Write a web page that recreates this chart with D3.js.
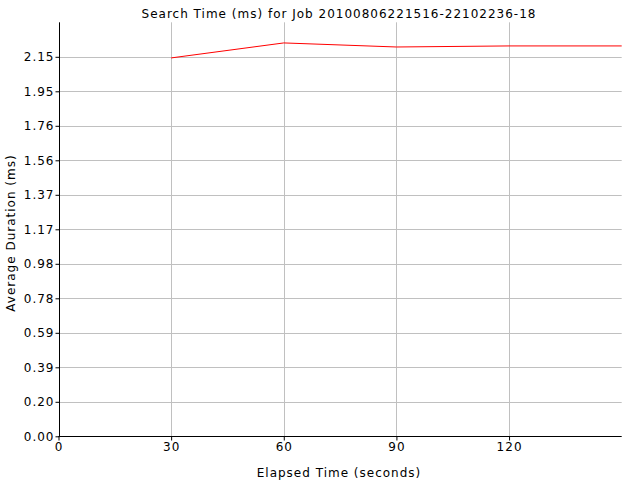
<!DOCTYPE html>
<html><head><meta charset="utf-8">
<script src="https://cdn.jsdelivr.net/npm/d3@7"></script>
<style>
body{margin:0;background:#fff;}
text{font-family:"DejaVu Sans",sans-serif;letter-spacing:1px;}
</style></head>
<body><svg id="c" width="640" height="480"></svg>
<script>
const titleText = "Search Time (ms) for Job 20100806221516-22102236-18";
const xLabel = "Elapsed Time (seconds)";
const yLabel = "Average Duration (ms)";
const elapsed = [30, 60, 90, 120, 150];
const avgDuration = [2.142, 2.227, 2.204, 2.210, 2.210];
const xTicks = [0, 30, 60, 90, 120];
const yTicks = [0,1,2,3,4,5,6,7,8,9,10,11].map(i => i * 0.1953125);

const svg = d3.select("#c");
const L = 58.5, R = 621.7, T = 22.3, B = 436.3;
const x = d3.scaleLinear().domain([0, 150]).range([L, R]);
const y = d3.scaleLinear().domain([0, 2.34375]).range([B, T]);

// grid
svg.append("g").selectAll("line").data(yTicks.slice(1)).join("line")
  .attr("x1", L).attr("x2", R).attr("y1", d => Math.round(y(d)) + 0.5).attr("y2", d => Math.round(y(d)) + 0.5)
  .attr("stroke", "#c0c0c0").attr("stroke-width", 1);
svg.append("g").selectAll("line").data(xTicks.slice(1)).join("line")
  .attr("y1", T).attr("y2", B).attr("x1", d => Math.round(x(d)) + 0.5).attr("x2", d => Math.round(x(d)) + 0.5)
  .attr("stroke", "#c0c0c0").attr("stroke-width", 1);

// axes
const xAxis = d3.axisBottom(x).tickValues(xTicks).tickFormat(d3.format("d")).tickSizeInner(4).tickSizeOuter(0).tickPadding(2);
const gx = svg.append("g").attr("transform", `translate(0,${Math.round(B)+0.5})`).call(xAxis);
const yAxis = d3.axisLeft(y).tickValues(yTicks).tickFormat(d3.format(".2f")).tickSizeInner(4).tickSizeOuter(0).tickPadding(1);
const gy = svg.append("g").attr("transform", `translate(${Math.round(L)+0.5},0)`).call(yAxis);
[gx, gy].forEach(g => {
  g.selectAll("text").attr("font-size", 12).attr("font-family", "DejaVu Sans").attr("fill", "#000");
  g.selectAll("line,path").attr("stroke", "#000");
});
gx.select(".domain").attr("d", `M${L},0H${R}`);
gy.select(".domain").attr("d", `M0,${B}V${T}`);

// line
const line = d3.line().x((d, i) => x(elapsed[i])).y(d => y(d));
svg.append("path").datum(avgDuration).attr("d", line)
  .attr("fill", "none").attr("stroke", "#ff0000").attr("stroke-width", 1);

// labels
svg.append("text").attr("x", 339).attr("y", 18).attr("text-anchor", "middle").attr("font-size", 12).text(titleText);
svg.append("text").attr("x", 339).attr("y", 477).attr("text-anchor", "middle").attr("font-size", 12).text(xLabel);
svg.append("text").attr("transform", "translate(15,233) rotate(-90)").attr("text-anchor", "middle").attr("font-size", 12).text(yLabel);
</script></body></html>
